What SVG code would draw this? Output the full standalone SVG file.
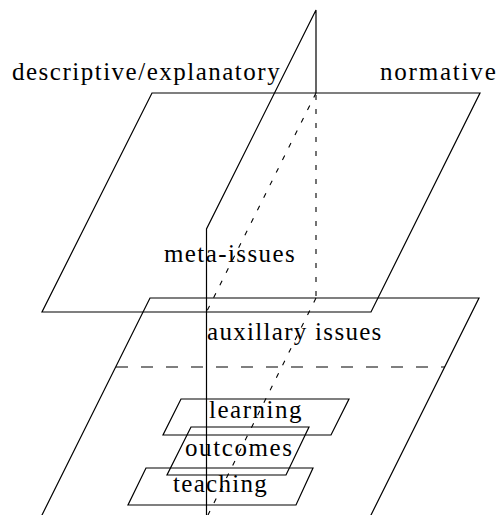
<svg xmlns="http://www.w3.org/2000/svg" width="497" height="515" viewBox="0 0 497 515">
<rect width="497" height="515" fill="#fff"/>
<g fill="none" stroke="#000" stroke-width="1.2">
<g id="lower-plane">
<polygon points="150,298 479,298 370,517 41,517"/>
<line x1="116" y1="367" x2="445" y2="367" stroke-width="1.1" stroke-dasharray="12 13"/>
</g>
<g id="meta-plane">
<polygon points="152,93 480,93 371,312 42,312"/>
</g>
<g id="vertical-plane">
<polyline points="316,93 316,10 206.5,229 206.5,515"/>
</g>
<g id="connectors" stroke-width="1.1" stroke-dasharray="5 9">
<line x1="316" y1="93" x2="206.5" y2="312"/>
<line x1="316" y1="95" x2="316" y2="298"/>
<line x1="316" y1="298" x2="207" y2="517"/>
</g>
<g id="learning">
<polygon points="181,399 349,399 331,435 163,435"/>
</g>
<g id="outcomes">
<polygon points="191,427 309,427 286,475 167,475"/>
</g>
<g id="teaching">
<polygon points="146,468 313,468 296,505 128,505"/>
</g>
</g>
<g id="labels">
<text x="207" y="340" font-family="Liberation Serif" font-size="25" letter-spacing="1.3">auxillary issues</text>
<text x="164" y="262" font-family="Liberation Serif" font-size="25" letter-spacing="1.4">meta-issues</text>
<text x="209" y="418" font-family="Liberation Serif" font-size="25" letter-spacing="1.5">learning</text>
<text x="185" y="456" font-family="Liberation Serif" font-size="25" letter-spacing="1.6">outcomes</text>
<text x="173" y="492" font-family="Liberation Serif" font-size="25" letter-spacing="1.3">teaching</text>
<text x="12" y="80" font-family="Liberation Serif" font-size="25" letter-spacing="1.5">descriptive/explanatory</text>
<text x="380" y="80" font-family="Liberation Serif" font-size="25" letter-spacing="1.8">normative</text>
</g>
</svg>
